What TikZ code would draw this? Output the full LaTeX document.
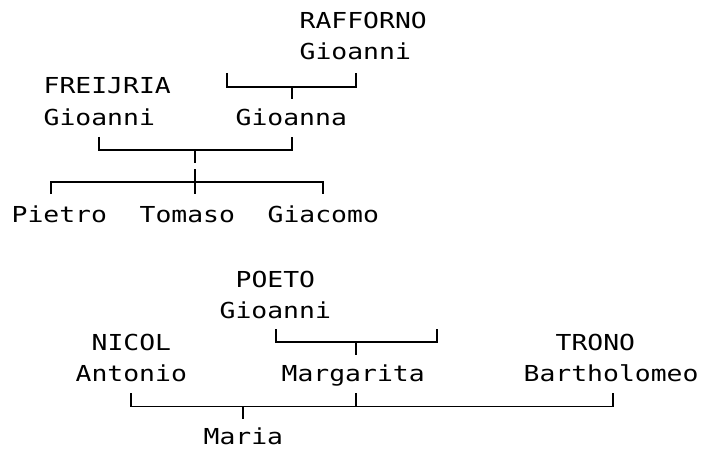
\documentclass[tikz,border=0pt]{standalone}
\usepackage{fontspec}
\newfontfamily\treefont[FakeStretch=1.2]{DejaVu Sans Mono}
\usetikzlibrary{calc}

\tikzset{person/.style={anchor=base west, inner sep=0pt, font=\treefont\fontsize{22}{26}\selectfont}}

\begin{document}
\begin{tikzpicture}[x=1pt, y=1pt, line width=1.3pt]
\useasboundingbox (0,0) rectangle (704,448);
% first family
\node[person] (rafforno) at (299,419) {RAFFORNO};
\node[person] (gioanniR) at (299,388) {Gioanni};
\node[person] (freijria) at (43,354) {FREIJRIA};
\node[person] (gioanniF) at (43,322.5) {Gioanni};
\node[person] (gioanna) at (235,322.5) {Gioanna};
\node[person] (pietro) at (11,226) {Pietro};
\node[person] (tomaso) at (139,226) {Tomaso};
\node[person] (giacomo) at (267,226) {Giacomo};
\coordinate (r1) at (227,375);
\coordinate (r2) at (356,375);
\coordinate (r3) at (292,361);
\coordinate (r4) at (292,349);
\draw (r1) |- (r3) -| (r2);
\draw (r3) -- (r4);
\coordinate (f1) at (99,311);
\coordinate (f2) at (292,311);
\coordinate (f3) at (195,298);
\coordinate (f4) at (195,285);
\coordinate (f5) at (195,279);
\coordinate (c0) at (195,266);
\coordinate (c1) at (51,254);
\coordinate (c2) at (195,254);
\coordinate (c3) at (323,254);
\draw (f1) |- (f3) -| (f2);
\draw (f3) -- (f4);
\draw (f5) -- (c2);
\draw (c1) |- (c0) -| (c3);
% second family
\node[person] (poeto) at (235,161) {POETO};
\node[person] (gioanniP) at (219,130) {Gioanni};
\node[person] (nicol) at (91,98) {NICOL};
\node[person] (antonio) at (75,66.5) {Antonio};
\node[person] (margarita) at (281,66.5) {Margarita};
\node[person] (trono) at (555,98) {TRONO};
\node[person] (bartholomeo) at (523,66.5) {Bartholomeo};
\node[person] (maria) at (203,4) {Maria};
\coordinate (p1) at (276,119);
\coordinate (p2) at (437,119);
\coordinate (p3) at (356,106);
\coordinate (p4) at (356,93);
\draw (p1) |- (p3) -| (p2);
\draw (p3) -- (p4);
\coordinate (m1) at (131,55);
\coordinate (m2) at (613,55);
\coordinate (m3) at (356,55);
\coordinate (m4) at (243,41.3);
\coordinate (m5) at (243,29);
\draw (m1) |- (m4) -| (m2);
\draw (m3) -- (m3 |- m4);
\draw (m4) -- (m5);
\end{tikzpicture}
\end{document}
